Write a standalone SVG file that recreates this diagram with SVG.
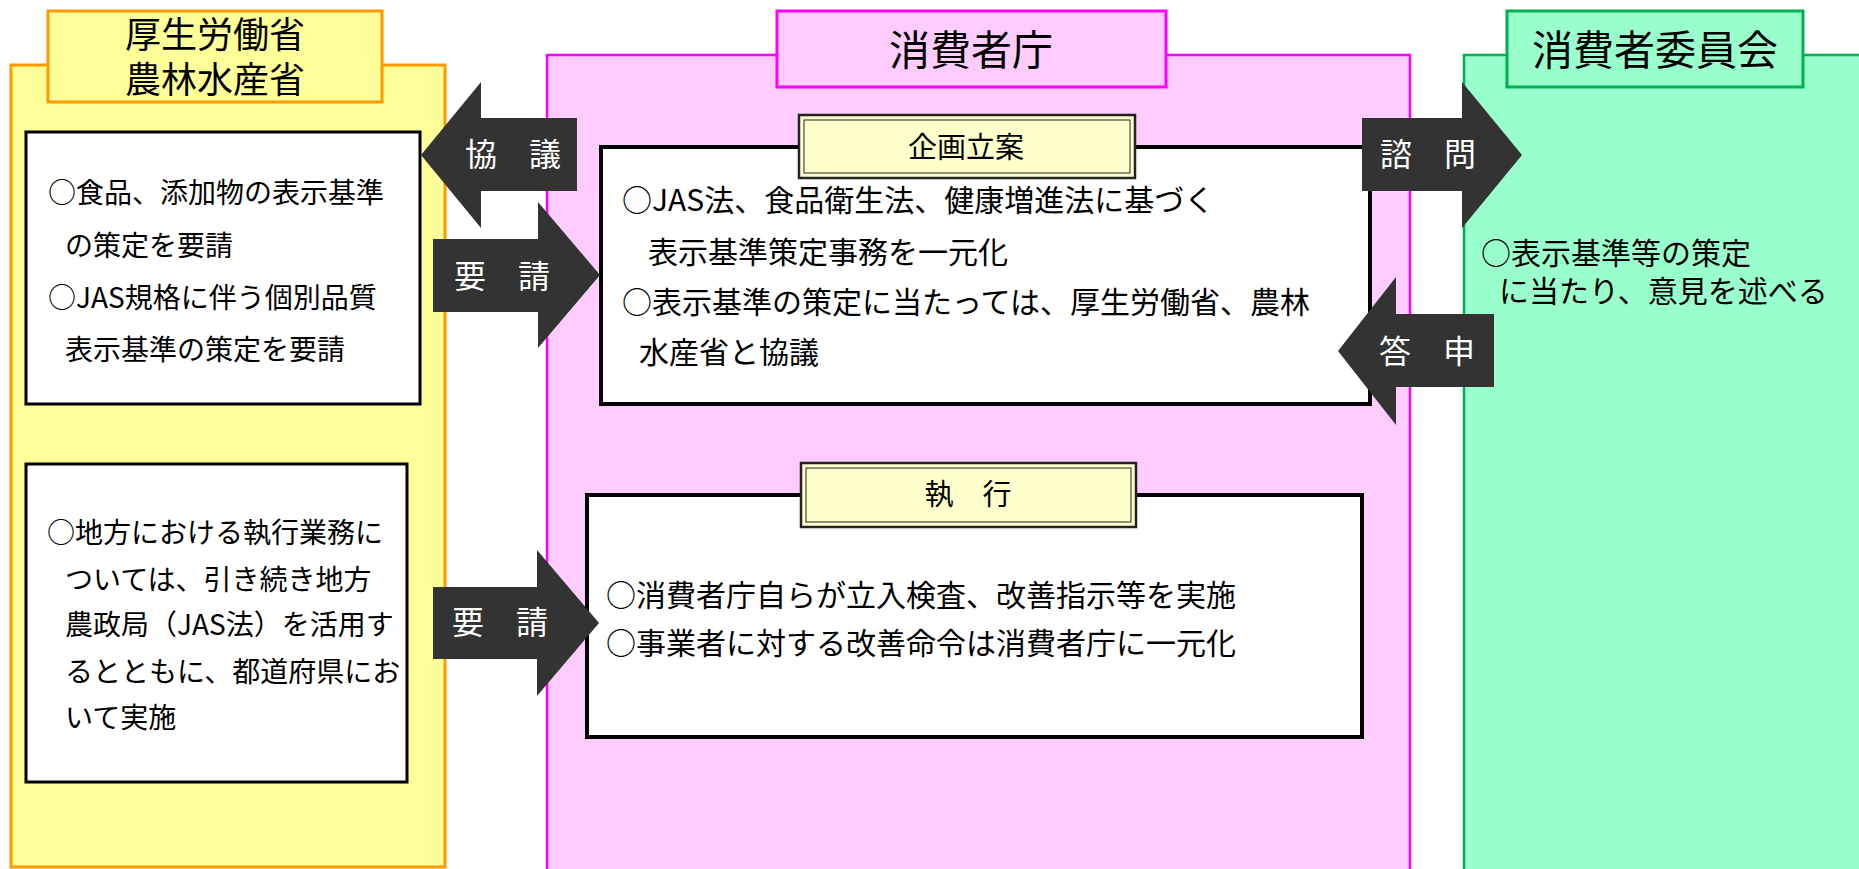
<svg xmlns="http://www.w3.org/2000/svg" width="1859" height="869" viewBox="0 0 1859 869">
<style>
text{font-family:"Noto Sans CJK JP","Noto Sans",sans-serif;fill:#000}
.t28{font-size:28px}
.t30{font-size:30px}
.ttl{font-size:36px;text-anchor:middle}
.big{font-size:41px;text-anchor:middle}
.lbl{font-size:29px;text-anchor:middle}
.arw{font-size:32px;text-anchor:middle;fill:#fff}
.box{fill:#fff;stroke:#000;stroke-width:3}
.cbox{fill:#fff;stroke:#000;stroke-width:4}
.lab{fill:#FFFFCC;stroke:#222;stroke-width:2.5}
.labi{fill:none;stroke:#222;stroke-width:1}
.arrow{fill:#333}
</style>
<g id="panel-left">
<rect x="11" y="65" width="434" height="802" fill="#FFFF99" stroke="#FF9900" stroke-width="3"/>
<rect x="48" y="11" width="334" height="91" fill="#FFFF99" stroke="#FF9900" stroke-width="3"/>
<text class="ttl" x="215" y="48">厚生労働省</text>
<text class="ttl" x="215" y="93">農林水産省</text>
</g>
<g id="panel-center">
<rect x="547" y="55" width="863" height="830" fill="#FFCCFF" stroke="#FF00FF" stroke-width="2.5"/>
<rect x="777" y="11" width="389" height="76" fill="#FFCCFF" stroke="#FF00FF" stroke-width="3"/>
<text class="big" x="971" y="65">消費者庁</text>
</g>
<g id="panel-right">
<rect x="1464" y="55" width="420" height="830" fill="#99FFCC" stroke="#00B050" stroke-width="2.5"/>
<rect x="1507" y="11" width="296" height="76" fill="#99FFCC" stroke="#00B050" stroke-width="3"/>
<text class="big" x="1655" y="65">消費者委員会</text>
<text class="t30" x="1481" y="264">○表示基準等の策定</text>
<text class="t30" x="1499" y="302">に当たり、意見を述べる</text>
</g>
<g id="box-request">
<rect class="box" x="26" y="132" width="394" height="272"/>
<text class="t28" x="48" y="203">○食品、添加物の表示基準</text>
<text class="t28" x="65" y="256">の策定を要請</text>
<text class="t28" x="48" y="308">○JAS規格に伴う個別品質</text>
<text class="t28" x="65" y="360">表示基準の策定を要請</text>
</g>
<g id="box-local">
<rect class="box" x="26" y="464" width="381" height="318"/>
<text class="t28" x="47" y="543">○地方における執行業務に</text>
<text class="t28" x="65" y="590">ついては、引き続き地方</text>
<text class="t28" x="65" y="635">農政局（JAS法）を活用す</text>
<text class="t28" x="65" y="682">るとともに、都道府県にお</text>
<text class="t28" x="65" y="728">いて実施</text>
</g>
<g id="box-planning">
<rect class="cbox" x="601" y="147" width="769" height="257"/>
<rect class="lab" x="799" y="115" width="336" height="63"/>
<rect class="labi" x="804" y="120" width="326" height="53"/>
<text class="lbl" x="966" y="158">企画立案</text>
<text class="t30" x="622" y="211">○JAS法、食品衛生法、健康増進法に基づく</text>
<text class="t30" x="648" y="263">表示基準策定事務を一元化</text>
<text class="t30" x="622" y="313">○表示基準の策定に当たっては、厚生労働省、農林</text>
<text class="t30" x="639" y="363">水産省と協議</text>
</g>
<g id="box-enforce">
<rect class="cbox" x="587" y="495" width="775" height="242"/>
<rect class="lab" x="801" y="463" width="335" height="64"/>
<rect class="labi" x="806" y="468" width="325" height="54"/>
<text class="lbl" x="968" y="505">執　行</text>
<text class="t30" x="606" y="606">○消費者庁自らが立入検査、改善指示等を実施</text>
<text class="t30" x="606" y="654">○事業者に対する改善命令は消費者庁に一元化</text>
</g>
<g id="connectors">
<g id="arrow-kyogi">
<polygon class="arrow" points="421,155 481,82 481,118 577,118 577,191 481,191 481,228"/>
<text class="arw" x="513" y="166">協　議</text>
</g>
<g id="arrow-yosei1">
<polygon class="arrow" points="433,239 538,239 538,202 600,275 538,348 538,312 433,312"/>
<text class="arw" x="502" y="288">要　請</text>
</g>
<g id="arrow-yosei2">
<polygon class="arrow" points="433,587 537,587 537,550 599,623 537,696 537,659 433,659"/>
<text class="arw" x="500" y="634">要　請</text>
</g>
<g id="arrow-shimon">
<polygon class="arrow" points="1362,118 1462,118 1462,82 1522,155 1462,228 1462,191 1362,191"/>
<text class="arw" x="1428" y="166">諮　問</text>
</g>
<g id="arrow-toshin">
<polygon class="arrow" points="1338,351 1396,277 1396,314 1494,314 1494,387 1396,387 1396,425"/>
<text class="arw" x="1427" y="363">答　申</text>
</g>
</g>
</svg>
